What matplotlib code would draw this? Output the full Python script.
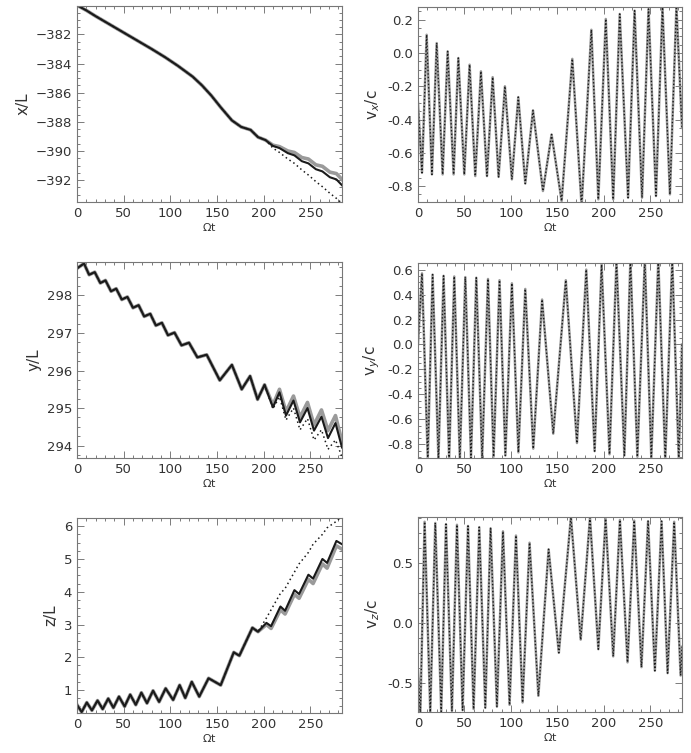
import numpy as np
import matplotlib
matplotlib.use("Agg")
import matplotlib.pyplot as plt
from matplotlib.ticker import MultipleLocator, AutoMinorLocator, FormatStrFormatter

# ---------------------------------------------------------------------
# Data (turning points of each curve)

# x/L : common part, then three branches
x_t = [0, 10, 20, 32, 44, 56, 68, 80, 94, 108, 124, 134, 144, 154, 166, 176, 186, 194, 202]
x_v = [-380.0, -380.35, -380.75, -381.2, -381.65, -382.1, -382.55, -383.0, -383.55,
       -384.15, -384.9, -385.5, -386.2, -387.0, -387.9, -388.35, -388.55, -389.05, -389.25]
x_tail_t = [210, 217, 226, 233, 241, 248, 256, 263, 271, 278, 284]
x_black = [-389.65, -389.8, -390.15, -390.3, -390.7, -390.85, -391.25, -391.4, -391.8, -391.95, -392.35]
x_gray = [-389.6, -389.7, -390.0, -390.1, -390.45, -390.55, -390.95, -391.05, -391.45, -391.55, -391.95]
x_dot = [-389.8, -390.1, -390.55, -390.85, -391.3, -391.65, -392.1, -392.45, -392.9, -393.25, -393.6]

# y/L
y_t = [0, 7.5, 13, 19, 25, 30.5, 36.5, 42, 48, 54, 60, 66, 72, 78.5, 84.5, 91, 97.5,
       104.5, 112, 120, 129, 139, 153, 166, 176.5, 185.5, 193.5, 201]
y_v = [298.72, 298.85, 298.55, 298.62, 298.33, 298.40, 298.11, 298.18, 297.89, 297.96,
       297.67, 297.74, 297.44, 297.51, 297.20, 297.27, 296.94, 297.01, 296.67, 296.74,
       296.35, 296.42, 295.74, 296.15, 295.5, 295.85, 295.23, 295.62]
y_tail_t = [210, 217, 224, 232, 239, 247, 254, 262, 269, 277, 284]
y_gray = [295.08, 295.5, 294.9, 295.32, 294.75, 295.15, 294.55, 294.95, 294.4, 294.8, 294.1]
y_black = [295.02, 295.42, 294.8, 295.2, 294.62, 295.0, 294.4, 294.77, 294.2, 294.6, 293.95]
y_dot = [294.98, 295.3, 294.68, 295.0, 294.42, 294.72, 294.15, 294.42, 293.9, 294.15, 293.7]

# z/L
z_t = [0, 5, 10.5, 16, 22, 27.5, 33.5, 39, 45, 51, 57, 63, 69, 75, 81.5, 88, 95, 103,
       110, 116, 123, 131, 141, 154, 168, 174, 188, 194]
z_v = [0.55, 0.33, 0.62, 0.38, 0.68, 0.42, 0.74, 0.46, 0.8, 0.5, 0.86, 0.55, 0.92, 0.6,
       0.98, 0.64, 1.05, 0.7, 1.15, 0.76, 1.25, 0.8, 1.36, 1.15, 2.15, 2.05, 2.9, 2.78]
z_tail_t = [203, 208, 218, 223, 233, 238, 248, 253, 263, 268, 278, 284]
z_gray = [3.0, 2.88, 3.45, 3.32, 3.92, 3.8, 4.38, 4.25, 4.85, 4.72, 5.4, 5.3]
z_black = [3.05, 2.95, 3.55, 3.42, 4.05, 3.93, 4.52, 4.4, 5.0, 4.88, 5.55, 5.45]
z_dot = [3.2, 3.45, 3.95, 4.1, 4.6, 4.85, 5.2, 5.45, 5.75, 5.95, 6.15, 6.3]

# velocities
vx_t = [0, 4.3, 9.3, 15, 20.1, 26.5, 31.9, 38.3, 43.4, 49.8, 55.5, 61.6, 67.7, 74.2, 80.3,
        86.7, 93.5, 101, 107.9, 115.4, 123.7, 134.4, 143.7, 154.5, 166, 176, 186.5, 194,
        202, 210, 217, 226, 233, 241, 248, 256, 263, 271, 278, 284]
vx_v = [-0.30, -0.72, 0.11, -0.73, 0.06, -0.73, 0.01, -0.73, -0.03, -0.73, -0.07, -0.74,
        -0.11, -0.74, -0.145, -0.745, -0.20, -0.76, -0.265, -0.785, -0.345, -0.83, -0.49,
        -0.89, -0.035, -0.92, 0.14, -0.88, 0.205, -0.88, 0.235, -0.87, 0.255, -0.87, 0.265,
        -0.86, 0.275, -0.85, 0.28, -0.45]

vy_t = [0, 4.3, 10.5, 15.7, 22, 27.5, 33.5, 39, 45, 50.9, 57, 62.7, 69, 75.3, 81.3, 87.7,
        94, 101, 108, 115.4, 124, 133.5, 145.5, 159, 171, 181, 190, 197.5, 206, 213.5, 222,
        228.5, 236, 244, 251, 258.5, 266, 273.5, 280.5, 284]
vy_v = [0.0, 0.57, -0.92, 0.56, -0.92, 0.55, -0.92, 0.545, -0.92, 0.54, -0.91, 0.535,
        -0.91, 0.525, -0.90, 0.515, -0.89, 0.49, -0.865, 0.445, -0.835, 0.36, -0.715,
        0.515, -0.79, 0.60, -0.855, 0.64, -0.88, 0.67, -0.89, 0.68, -0.90, 0.68, -0.91,
        0.68, -0.92, 0.68, -0.92, 0.0]

vz_t = [0, 2.5, 7.1, 13.2, 18.6, 25, 30.1, 36.5, 41.9, 48, 53.8, 59.8, 65.9, 72.4, 78.1,
        84.9, 91.4, 98.5, 105.4, 112.5, 120, 129.5, 140.5, 151.5, 164.5, 175, 185, 194,
        201.8, 210, 217.2, 225.4, 232.6, 240.4, 247.5, 254.8, 262, 268.5, 275.6, 282.5, 284]
vz_v = [-0.40, -0.76, 0.845, -0.745, 0.835, -0.74, 0.825, -0.735, 0.82, -0.73, 0.81, -0.72,
        0.80, -0.71, 0.79, -0.70, 0.765, -0.685, 0.73, -0.665, 0.67, -0.61, 0.615, -0.25,
        0.885, -0.14, 0.88, -0.22, 0.87, -0.28, 0.86, -0.33, 0.855, -0.37, 0.85, -0.40,
        0.85, -0.42, 0.845, -0.44, -0.2]

# ---------------------------------------------------------------------
W, H = 691, 753
fig = plt.figure(figsize=(W / 100, H / 100), dpi=100)
plt.rcParams['font.family'] = 'DejaVu Sans'
tc = '#333333'

def box(l, r, t, b):
    return [l / W, 1 - b / H, (r - l) / W, (b - t) / H]

def style(ax, ylim, ymaj, ylabel):
    ax.set_xlim(0, 284)
    ax.set_ylim(*ylim)
    ax.xaxis.set_major_locator(MultipleLocator(50))
    ax.xaxis.set_minor_locator(AutoMinorLocator(5))
    ax.yaxis.set_major_locator(MultipleLocator(ymaj))
    ax.yaxis.set_minor_locator(AutoMinorLocator(4))
    ax.tick_params(which='both', direction='in', top=True, right=True,
                   colors='#666666', labelcolor=tc, labelsize=9.5, width=0.6)
    ax.tick_params(which='major', length=5)
    ax.tick_params(which='minor', length=2.5)
    for s in ax.spines.values():
        s.set_color('#777777')
        s.set_linewidth(0.8)
    ax.set_xlabel(r'$\Omega$t', fontsize=8, color=tc, labelpad=1)
    ax.set_ylabel(ylabel, fontsize=11, color=tc, labelpad=4)

def three(ax, t0, v0, tt, gray, black, dot):
    ax.plot(t0 + tt, v0 + gray, color='#9a9a9a', lw=2.6, solid_joinstyle='round')
    ax.plot(t0 + tt, v0 + black, color='#1a1a1a', lw=1.5, solid_joinstyle='round')
    ax.plot(t0 + tt, v0 + dot, color='#1a1a1a', lw=1.1, ls=(0, (1, 2)))

def vel(ax, t, v):
    ax.plot(t, v, color='#9a9a9a', lw=1.8, solid_joinstyle='round')
    ax.plot(t, v, color='#1a1a1a', lw=1.0, ls=(0, (1, 1.5)))

ax1 = fig.add_axes(box(77, 342, 6, 202))
three(ax1, x_t, x_v, x_tail_t, x_gray, x_black, x_dot)
style(ax1, (-393.5, -380.05), 2, 'x/L')

ax2 = fig.add_axes(box(418, 682, 7, 202))
vel(ax2, vx_t, vx_v)
style(ax2, (-0.896, 0.277), 0.2, r'v$_x$/c')
ax2.yaxis.set_major_formatter(FormatStrFormatter('%.1f'))

ax3 = fig.add_axes(box(77, 342, 262, 458))
three(ax3, y_t, y_v, y_tail_t, y_gray, y_black, y_dot)
style(ax3, (293.67, 298.89), 1, 'y/L')

ax4 = fig.add_axes(box(418, 682, 263, 458))
vel(ax4, vy_t, vy_v)
style(ax4, (-0.91, 0.653), 0.2, r'v$_y$/c')
ax4.yaxis.set_major_formatter(FormatStrFormatter('%.1f'))

ax5 = fig.add_axes(box(77, 342, 518, 713))
three(ax5, z_t, z_v, z_tail_t, z_gray, z_black, z_dot)
style(ax5, (0.3, 6.25), 1, 'z/L')

ax6 = fig.add_axes(box(418, 682, 517, 712))
vel(ax6, vz_t, vz_v)
style(ax6, (-0.745, 0.885), 0.5, r'v$_z$/c')
ax6.yaxis.set_major_formatter(FormatStrFormatter('%.1f'))

fig.savefig('out.png', dpi=100)
